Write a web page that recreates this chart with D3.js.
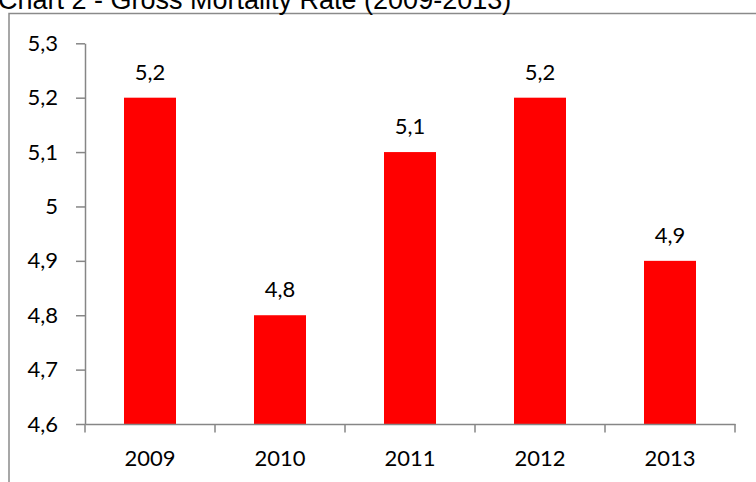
<!DOCTYPE html>
<html><head><meta charset="utf-8">
<script src="https://cdn.jsdelivr.net/npm/d3@7"></script>
<style>
html,body{margin:0;padding:0;background:#fff;overflow:hidden;}
svg{display:block;}
</style></head>
<body>
<svg id="chart" width="756" height="482"></svg>
<script>
const title = "Chart 2 - Gross Mortality Rate (2009-2013)";
const categories = ["2009","2010","2011","2012","2013"];
const values = [5.2, 4.8, 5.1, 5.2, 4.9];
const yTicks = [4.6, 4.7, 4.8, 4.9, 5.0, 5.1, 5.2, 5.3];
const fmt = v => d3.format(".1~f")(v).replace(".", ",");

const svg = d3.select("#chart");
const W = 756, H = 482;
const m = {left: 85, right: 21, top: 43.3, bottom: 58};
const labelFont = "Lato, 'Open Sans', sans-serif";
const axisColor = "#868686";

// outer border (extends beyond view on right/bottom)
svg.append("rect").attr("x", 9).attr("y", 13.5).attr("width", 800).attr("height", 600)
  .attr("fill", "none").attr("stroke", "#8a8a8a").attr("stroke-width", 1.5);

svg.append("text").attr("x", -2).attr("y", 9)
  .attr("font-family", "'Liberation Sans', Arial, sans-serif").attr("font-size", 27)
  .attr("fill", "#000").text(title);

const x = d3.scaleBand().domain(categories).range([m.left, W - m.right]).paddingInner(0).paddingOuter(0);
const y = d3.scaleLinear().domain([4.6, 5.3]).range([H - m.bottom, m.top]);
const barW = x.bandwidth() * 0.4;

// bars
svg.append("g").selectAll("rect").data(values).join("rect")
  .attr("x", (d, i) => x(categories[i]) + (x.bandwidth() - barW) / 2)
  .attr("y", d => y(d))
  .attr("width", barW)
  .attr("height", d => y(4.6) - y(d))
  .attr("fill", "#ff0000");

// y axis
const ya = svg.append("g").attr("transform", `translate(${m.left},0)`)
  .call(d3.axisLeft(y).tickValues(yTicks).tickFormat(fmt).tickSize(9).tickSizeOuter(0).tickPadding(18));
ya.select(".domain").attr("stroke", axisColor).attr("stroke-width", 1.5);
ya.selectAll(".tick line").attr("stroke", axisColor).attr("stroke-width", 1.5);
ya.selectAll(".tick text").attr("font-family", labelFont).attr("font-size", 22).attr("fill", "#000");

// x axis
const xa = svg.append("g").attr("transform", `translate(0,${y(4.6)})`)
  .call(d3.axisBottom(x).tickSize(0).tickPadding(26));
xa.select(".domain").attr("stroke", axisColor).attr("stroke-width", 1.5);
xa.selectAll(".tick text").attr("font-family", labelFont).attr("font-size", 22).attr("fill", "#000");
// category boundary ticks
const bounds = categories.map(c => x(c)).concat([x(categories[categories.length - 1]) + x.bandwidth()]);
svg.append("g").selectAll("line").data(bounds).join("line")
  .attr("x1", d => d).attr("x2", d => d)
  .attr("y1", y(4.6)).attr("y2", y(4.6) + 8.5)
  .attr("stroke", axisColor).attr("stroke-width", 1.5);

// value labels
svg.append("g").selectAll("text").data(values).join("text")
  .attr("x", (d, i) => x(categories[i]) + x.bandwidth() / 2)
  .attr("y", d => y(d) - 18)
  .attr("text-anchor", "middle")
  .attr("font-family", labelFont).attr("font-size", 22).attr("fill", "#000")
  .text(d => fmt(d));
</script>
</body></html>
